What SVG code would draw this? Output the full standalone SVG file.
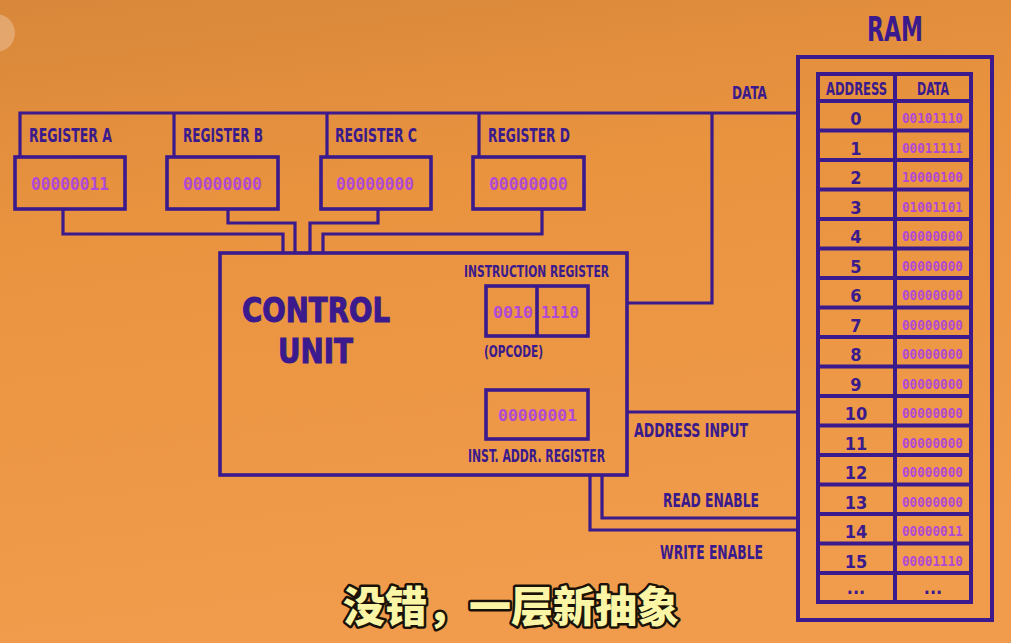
<svg xmlns="http://www.w3.org/2000/svg" width="1011" height="643" viewBox="0 0 1011 643">
<defs>
<linearGradient id="bg" x1="0" y1="0" x2="0.2" y2="1">
<stop offset="0" stop-color="#D8873A"/>
<stop offset="0.35" stop-color="#E9933F"/>
<stop offset="1" stop-color="#F19C4C"/>
</linearGradient>
<style>
.ln{fill:none;stroke:#3A1A8C;stroke-width:3.2;stroke-linejoin:miter}
.bx{fill:none;stroke:#3A1A8C;stroke-width:3.6}
.lb{font-family:"DejaVu Sans Condensed","DejaVu Sans",sans-serif;font-weight:bold;fill:#3A1A8C}
.val{font-family:"DejaVu Sans Mono","Liberation Mono",monospace;font-weight:bold;fill:#B049D6}
.num{font-family:"DejaVu Sans Condensed","DejaVu Sans",sans-serif;font-weight:bold;fill:#3A1A8C;font-size:18px;text-anchor:middle}
.dv{font-family:"DejaVu Sans Mono","Liberation Mono",monospace;font-weight:bold;fill:#B049D6;font-size:13.5px}
.sub{font-family:"Noto Sans CJK SC",sans-serif;font-weight:900;font-size:42px;fill:#FBF6A6;stroke:#1A1208;stroke-width:5;paint-order:stroke;stroke-linejoin:round}
</style>
</defs>
<rect x="0" y="0" width="1011" height="643" fill="url(#bg)"/>
<circle cx="-4" cy="33" r="19" fill="#FFFFFF" opacity="0.25"/>

<g id="connectors">
<path class="ln" d="M20,157 V113 H798"/>
<path class="ln" d="M174,113 V157"/>
<path class="ln" d="M327,113 V157"/>
<path class="ln" d="M479,113 V157"/>
<path class="ln" d="M627,303 H712 V113"/>
<path class="ln" d="M63,209 V234 H283 V253"/>
<path class="ln" d="M228,209 V223 H295 V253"/>
<path class="ln" d="M378,209 V223 H310 V253"/>
<path class="ln" d="M542,209 V234 H323 V253"/>
<path class="ln" d="M627,412 H798"/>
<path class="ln" d="M602,475 V518 H798"/>
<path class="ln" d="M590,475 V530 H798"/>
<text class="lb" x="732" y="99" font-size="18" textLength="35" lengthAdjust="spacingAndGlyphs">DATA</text>
<text class="lb" x="634" y="437" font-size="19" textLength="114" lengthAdjust="spacingAndGlyphs">ADDRESS INPUT</text>
<text class="lb" x="663" y="507" font-size="19" textLength="96" lengthAdjust="spacingAndGlyphs">READ ENABLE</text>
<text class="lb" x="660" y="559" font-size="19" textLength="103" lengthAdjust="spacingAndGlyphs">WRITE ENABLE</text>
</g>

<g id="register-a">
<text class="lb" x="29" y="142" font-size="20" textLength="83" lengthAdjust="spacingAndGlyphs">REGISTER A</text>
<rect class="bx" x="15" y="157" width="110" height="52"/>
<text class="val" x="31" y="190" font-size="17" textLength="78" lengthAdjust="spacingAndGlyphs">00000011</text>
</g>
<g id="register-b">
<text class="lb" x="183" y="142" font-size="20" textLength="80" lengthAdjust="spacingAndGlyphs">REGISTER B</text>
<rect class="bx" x="167" y="157" width="111" height="52"/>
<text class="val" x="183" y="190" font-size="17" textLength="79" lengthAdjust="spacingAndGlyphs">00000000</text>
</g>
<g id="register-c">
<text class="lb" x="335" y="142" font-size="20" textLength="82" lengthAdjust="spacingAndGlyphs">REGISTER C</text>
<rect class="bx" x="321" y="157" width="110" height="52"/>
<text class="val" x="336" y="190" font-size="17" textLength="78" lengthAdjust="spacingAndGlyphs">00000000</text>
</g>
<g id="register-d">
<text class="lb" x="488" y="142" font-size="20" textLength="82" lengthAdjust="spacingAndGlyphs">REGISTER D</text>
<rect class="bx" x="473" y="157" width="111" height="52"/>
<text class="val" x="489" y="190" font-size="17" textLength="79" lengthAdjust="spacingAndGlyphs">00000000</text>
</g>

<g id="control-unit">
<rect class="bx" x="220" y="253" width="407" height="222"/>
<text class="lb" x="242" y="322" font-size="34" textLength="148" lengthAdjust="spacingAndGlyphs" stroke="#3A1A8C" stroke-width="1">CONTROL</text>
<text class="lb" x="278" y="363" font-size="34" textLength="75" lengthAdjust="spacingAndGlyphs" stroke="#3A1A8C" stroke-width="1">UNIT</text>
</g>
<g id="instruction-register">
<text class="lb" x="464" y="277" font-size="16.5" textLength="145" lengthAdjust="spacingAndGlyphs">INSTRUCTION REGISTER</text>
<rect class="bx" x="486" y="286" width="102" height="50"/>
<line class="bx" x1="537" y1="286" x2="537" y2="336"/>
<text class="val" x="493" y="318" font-size="16" textLength="40" lengthAdjust="spacingAndGlyphs">0010</text>
<text class="val" x="541" y="318" font-size="16" textLength="38" lengthAdjust="spacingAndGlyphs">1110</text>
<text class="lb" x="484" y="357" font-size="16" textLength="59" lengthAdjust="spacingAndGlyphs">(OPCODE)</text>
</g>
<g id="inst-addr-register">
<rect class="bx" x="486" y="390" width="102" height="49"/>
<text class="val" x="498" y="421" font-size="16" textLength="79" lengthAdjust="spacingAndGlyphs">00000001</text>
<text class="lb" x="468" y="462" font-size="17" textLength="137" lengthAdjust="spacingAndGlyphs">INST. ADDR. REGISTER</text>
</g>

<g id="ram">
<text class="lb" x="867" y="41" font-size="33" textLength="56" lengthAdjust="spacingAndGlyphs">RAM</text>
<rect x="798" y="57" width="194" height="563" fill="none" stroke="#3A1A8C" stroke-width="4"/>
<rect x="818" y="74" width="153" height="528" fill="none" stroke="#3A1A8C" stroke-width="4"/>
<line x1="895" y1="74" x2="895" y2="602" stroke="#3A1A8C" stroke-width="4"/>
<g stroke="#3A1A8C" stroke-width="4">
<line x1="818" y1="101" x2="971" y2="101"/>
<line x1="818" y1="130.5" x2="971" y2="130.5"/>
<line x1="818" y1="160" x2="971" y2="160"/>
<line x1="818" y1="189.5" x2="971" y2="189.5"/>
<line x1="818" y1="219" x2="971" y2="219"/>
<line x1="818" y1="248.5" x2="971" y2="248.5"/>
<line x1="818" y1="278" x2="971" y2="278"/>
<line x1="818" y1="307.5" x2="971" y2="307.5"/>
<line x1="818" y1="337" x2="971" y2="337"/>
<line x1="818" y1="366.5" x2="971" y2="366.5"/>
<line x1="818" y1="396" x2="971" y2="396"/>
<line x1="818" y1="425.5" x2="971" y2="425.5"/>
<line x1="818" y1="455" x2="971" y2="455"/>
<line x1="818" y1="484.5" x2="971" y2="484.5"/>
<line x1="818" y1="514" x2="971" y2="514"/>
<line x1="818" y1="543.5" x2="971" y2="543.5"/>
<line x1="818" y1="573" x2="971" y2="573"/>
</g>
<text class="lb" x="826" y="95" font-size="18" textLength="61" lengthAdjust="spacingAndGlyphs">ADDRESS</text>
<text class="lb" x="917" y="95" font-size="18" textLength="32" lengthAdjust="spacingAndGlyphs">DATA</text>
<text class="num" x="856" y="125">0</text>
<text class="num" x="856" y="154.5">1</text>
<text class="num" x="856" y="184">2</text>
<text class="num" x="856" y="213.5">3</text>
<text class="num" x="856" y="243">4</text>
<text class="num" x="856" y="272.5">5</text>
<text class="num" x="856" y="302">6</text>
<text class="num" x="856" y="331.5">7</text>
<text class="num" x="856" y="361">8</text>
<text class="num" x="856" y="390.5">9</text>
<text class="num" x="856" y="420">10</text>
<text class="num" x="856" y="449.5">11</text>
<text class="num" x="856" y="479">12</text>
<text class="num" x="856" y="508.5">13</text>
<text class="num" x="856" y="538">14</text>
<text class="num" x="856" y="567.5">15</text>
<text class="num" x="856" y="594" font-size="20">...</text>
<text class="dv" x="902" y="123" textLength="61" lengthAdjust="spacingAndGlyphs">00101110</text>
<text class="dv" x="902" y="152.5" textLength="61" lengthAdjust="spacingAndGlyphs">00011111</text>
<text class="dv" x="902" y="182" textLength="61" lengthAdjust="spacingAndGlyphs">10000100</text>
<text class="dv" x="902" y="211.5" textLength="61" lengthAdjust="spacingAndGlyphs">01001101</text>
<text class="dv" x="902" y="241" textLength="61" lengthAdjust="spacingAndGlyphs">00000000</text>
<text class="dv" x="902" y="270.5" textLength="61" lengthAdjust="spacingAndGlyphs">00000000</text>
<text class="dv" x="902" y="300" textLength="61" lengthAdjust="spacingAndGlyphs">00000000</text>
<text class="dv" x="902" y="329.5" textLength="61" lengthAdjust="spacingAndGlyphs">00000000</text>
<text class="dv" x="902" y="359" textLength="61" lengthAdjust="spacingAndGlyphs">00000000</text>
<text class="dv" x="902" y="388.5" textLength="61" lengthAdjust="spacingAndGlyphs">00000000</text>
<text class="dv" x="902" y="418" textLength="61" lengthAdjust="spacingAndGlyphs">00000000</text>
<text class="dv" x="902" y="447.5" textLength="61" lengthAdjust="spacingAndGlyphs">00000000</text>
<text class="dv" x="902" y="477" textLength="61" lengthAdjust="spacingAndGlyphs">00000000</text>
<text class="dv" x="902" y="506.5" textLength="61" lengthAdjust="spacingAndGlyphs">00000000</text>
<text class="dv" x="902" y="536" textLength="61" lengthAdjust="spacingAndGlyphs">00000011</text>
<text class="dv" x="902" y="565.5" textLength="61" lengthAdjust="spacingAndGlyphs">00001110</text>
<text class="num" x="933" y="594" font-size="20">...</text>
</g>

<g id="subtitle">
<text class="sub" x="511" y="622" text-anchor="middle">没错，一层新抽象</text>
</g>
</svg>
